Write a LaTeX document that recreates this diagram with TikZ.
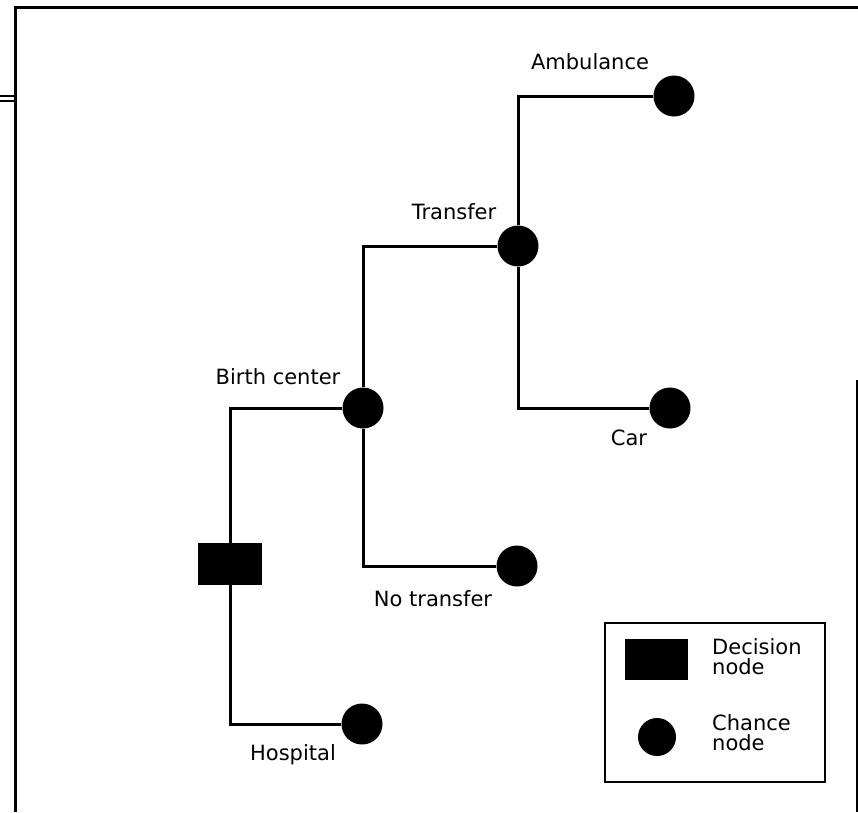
\documentclass[tikz,border=0pt]{standalone}
\usepackage{fontspec}
\setmainfont{DejaVu Sans}
\usepackage{tikz}
\usetikzlibrary{positioning,calc}

\tikzset{
  chance/.style={circle,fill=black,minimum size=41pt,inner sep=0pt},
  decision/.style={rectangle,fill=black,minimum width=64pt,minimum height=42pt,inner sep=0pt},
  branch/.style={line width=3pt},
  lbl/.style={font=\fontsize{21}{20}\selectfont,inner sep=0pt}
}

\begin{document}
\begin{tikzpicture}[x=1pt,y=-1pt]
  \useasboundingbox (0,0) rectangle (858,812);
  \draw[line width=3pt] (858,7) -- (15,7) -- (15,812);
  \draw[line width=1.4pt] (0,96) -- (15,96) (0,101) -- (15,101);
  \draw[line width=2pt] (857,380) -- (857,812);
  \node[decision] (dec) at (230,564) {};
  \node[chance] (birth) at (363,408) {};
  \node[chance] (hosp) at (362,724) {};
  \node[chance] (trans) at (518,246) {};
  \node[chance] (notr) at (517,566) {};
  \node[chance] (amb) at (674,96) {};
  \node[chance] (car) at (670,408) {};
  \draw[branch] (dec) |- (birth);
  \draw[branch] (dec) |- (hosp);
  \draw[branch] (birth) |- (trans);
  \draw[branch] (birth) |- (notr);
  \draw[branch] (trans) |- (amb);
  \draw[branch] (trans) |- (car);
  \node[lbl] (lamb) at (590,62) {Ambulance};
  \node[lbl] (ltrans) at (454,212) {Transfer};
  \node[lbl] (lbirth) at (278,377) {Birth center};
  \node[lbl] (lcar) at (629,438) {Car};
  \node[lbl] (lnotr) at (433,599) {No transfer};
  \node[lbl] (lhosp) at (293,755) {Hospital};
  \node[draw,line width=2pt,minimum width=220pt,minimum height=159pt] (legend) at (715,702.5) {};
  \node[decision,minimum width=63pt,minimum height=41pt] (keydec) at (656.5,659.5) {};
  \node[chance,minimum size=38pt] (keych) at (657,737) {};
  \node[lbl,anchor=west,align=left] (lkeydec) at (712,657) {Decision\\node};
  \node[lbl,anchor=west,align=left] (lkeych) at (712,733) {Chance\\node};
\end{tikzpicture}
\end{document}
